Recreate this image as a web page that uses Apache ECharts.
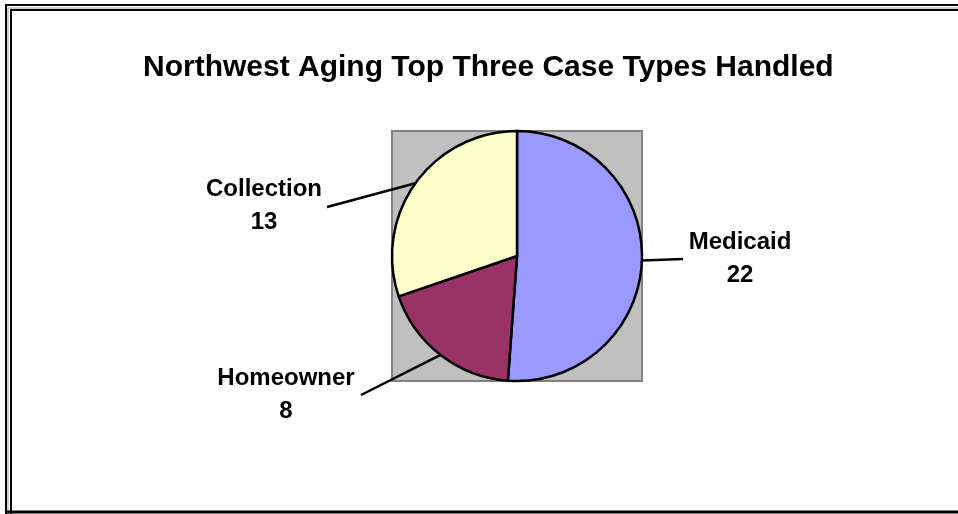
<!DOCTYPE html>
<html>
<head>
<meta charset="utf-8">
<script src="https://cdn.jsdelivr.net/npm/echarts@6/dist/echarts.min.js"></script>
<style>
  html, body { margin: 0; padding: 0; background: #fff; }
  #chart { width: 958px; height: 514px; }
</style>
</head>
<body>
<div id="chart"></div>
<script>
// data
var categories = ['Medicaid', 'Homeowner', 'Collection'];
var caseCounts = [22, 8, 13];
var sliceColors = ['#9999FF', '#993366', '#FFFFCC'];

// where each label sits and where its leader line stops
var labelSpots = [[740, 259], [286, 395], [264, 206]];
var lineEnds = [[683, 259], [361, 395], [327, 207]];

var pieCenter = [517, 256];
var pieRadius = 125;

var chart = echarts.init(document.getElementById('chart'));

var option = {
    backgroundColor: '#ffffff',
    animation: false,
    title: {
        text: 'Northwest Aging Top Three Case Types Handled',
        left: 143,
        top: 53,
        padding: 0,
        textStyle: {
            fontFamily: 'Liberation Sans, Arial, sans-serif',
            fontWeight: 'bold',
            fontSize: 30,
            color: '#000'
        }
    },
    graphic: [
        // double frame round the chart (cut off on the right)
        {type: 'line', shape: {x1: 5, y1: 5, x2: 958, y2: 5}, style: {stroke: '#000', lineWidth: 2}},
        {type: 'line', shape: {x1: 11, y1: 10, x2: 958, y2: 10}, style: {stroke: '#000', lineWidth: 2}},
        {type: 'line', shape: {x1: 8, y1: 8, x2: 958, y2: 8}, style: {stroke: '#999', lineWidth: 1}},
        {type: 'line', shape: {x1: 6, y1: 4, x2: 6, y2: 514}, style: {stroke: '#000', lineWidth: 2}},
        {type: 'line', shape: {x1: 11, y1: 9, x2: 11, y2: 514}, style: {stroke: '#000', lineWidth: 2}},
        {type: 'line', shape: {x1: 8, y1: 8, x2: 8, y2: 514}, style: {stroke: '#999', lineWidth: 1}},
        {type: 'line', shape: {x1: 5, y1: 512, x2: 958, y2: 512}, style: {stroke: '#000', lineWidth: 3}},
        // grey plot area behind the pie
        {
            type: 'rect',
            z: -1,
            shape: {
                x: pieCenter[0] - pieRadius,
                y: pieCenter[1] - pieRadius,
                width: pieRadius * 2,
                height: pieRadius * 2
            },
            style: {fill: '#C0C0C0', stroke: '#808080', lineWidth: 2}
        }
    ],
    series: [
        {
            type: 'pie',
            center: pieCenter,
            radius: pieRadius,
            startAngle: 90,
            clockwise: true,
            z: 5,
            data: categories.map(function (name, i) {
                return {name: name, value: caseCounts[i], itemStyle: {color: sliceColors[i]}};
            }),
            itemStyle: {borderColor: '#000', borderWidth: 2.5},
            emphasis: {disabled: true},
            label: {
                show: true,
                position: 'outside',
                formatter: '{b}\n{c}',
                fontFamily: 'Liberation Sans, Arial, sans-serif',
                fontWeight: 'bold',
                fontSize: 24,
                lineHeight: 33,
                color: '#000',
                align: 'center'
            },
            labelLine: {
                show: true,
                length: 20,
                length2: 20,
                lineStyle: {color: '#000', width: 2.5}
            },
            labelLayout: function (params) {
                var i = params.dataIndex;
                var start = params.labelLinePoints ? params.labelLinePoints[0] : lineEnds[i];
                return {
                    x: labelSpots[i][0],
                    y: labelSpots[i][1],
                    align: 'center',
                    verticalAlign: 'middle',
                    labelLinePoints: [start, lineEnds[i]]
                };
            }
        }
    ]
};

chart.setOption(option);
</script>
</body>
</html>
